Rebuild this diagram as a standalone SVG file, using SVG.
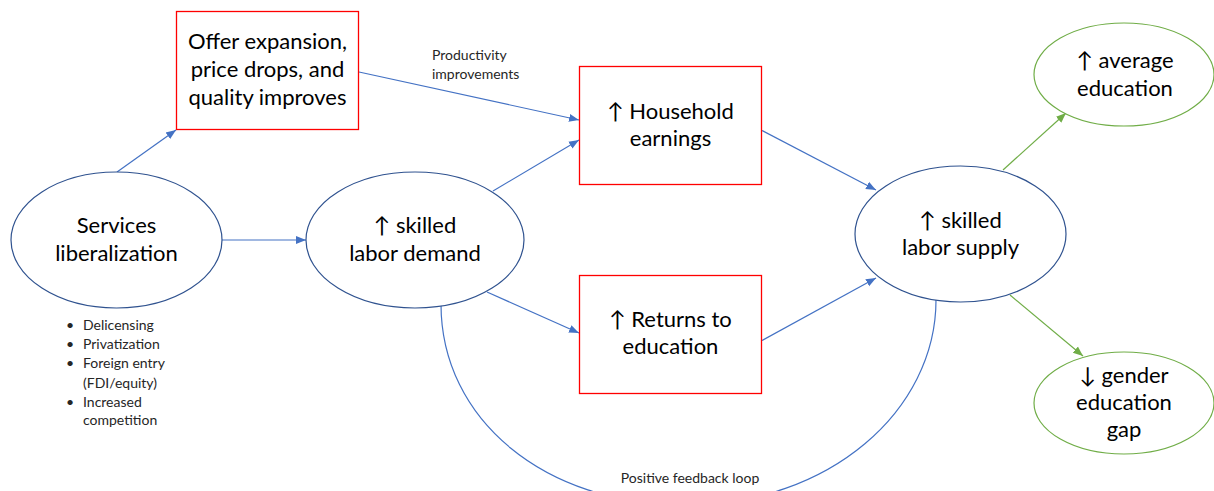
<svg xmlns="http://www.w3.org/2000/svg" width="1214" height="491" viewBox="0 0 1214 491">
<style>
  .ell { fill: #ffffff; stroke: #2F528F; stroke-width: 1.2; }
  .gell { fill: #ffffff; stroke: #70AD47; stroke-width: 1.2; }
  .box { fill: #ffffff; stroke: #FF0000; stroke-width: 1.3; }
  .big { font-family: Lato, "Liberation Sans", sans-serif; font-size: 22px; fill: #000000; text-anchor: middle; }
  .small { font-family: Lato, "Liberation Sans", sans-serif; font-size: 14px; fill: #262626; }
  .conn { fill: none; stroke: #4472C4; stroke-width: 1.2; }
  .gconn { fill: none; stroke: #70AD47; stroke-width: 1.2; }
</style>
<defs>
  <marker id="ab" markerUnits="userSpaceOnUse" markerWidth="10" markerHeight="10" viewBox="0 0 10 10" refX="10" refY="5" orient="auto">
    <path d="M0,1 L10,5 L0,9 Z" fill="#4472C4"/>
  </marker>
  <marker id="ag" markerUnits="userSpaceOnUse" markerWidth="10" markerHeight="10" viewBox="0 0 10 10" refX="10" refY="5" orient="auto">
    <path d="M0,1 L10,5 L0,9 Z" fill="#70AD47"/>
  </marker>
</defs>
<rect width="1214" height="491" fill="#ffffff"/>

<g id="connectors">
  <path class="conn" d="M117,172 L176,130" marker-end="url(#ab)"/>
  <path class="conn" d="M222,240 L306,240" marker-end="url(#ab)"/>
  <path class="conn" d="M359,72 L579,120" marker-end="url(#ab)"/>
  <path class="conn" d="M493,191 L579,140" marker-end="url(#ab)"/>
  <path class="conn" d="M487,292 L579,333" marker-end="url(#ab)"/>
  <path class="conn" d="M761,130 L876,190" marker-end="url(#ab)"/>
  <path class="conn" d="M761,341 L876,278" marker-end="url(#ab)"/>
  <path class="gconn" d="M1003,170 L1066,113" marker-end="url(#ag)"/>
  <path class="gconn" d="M1010,295 L1083,356" marker-end="url(#ag)"/>
  <path class="conn" d="M441,304 C441,420 545,505 685,505 C830,505 936,410 936,300"/>
  <text class="small" x="690" y="483" text-anchor="middle">Positive feedback loop</text>
  <text class="small" x="432" y="60">Productivity</text>
  <text class="small" x="432" y="79">improvements</text>
</g>

<g id="services">
  <ellipse class="ell" cx="116.5" cy="240" rx="105.5" ry="68"/>
  <text class="big" x="116.5" y="233">Services</text>
  <text class="big" x="116.5" y="261">liberalization</text>
  <g class="small">
    <text x="66" y="330">•</text><text x="83" y="330">Delicensing</text>
    <text x="66" y="349">•</text><text x="83" y="349">Privatization</text>
    <text x="66" y="368">•</text><text x="83" y="368">Foreign entry</text>
    <text x="83" y="388">(FDI/equity)</text>
    <text x="66" y="407">•</text><text x="83" y="407">Increased</text>
    <text x="83" y="425">competition</text>
  </g>
</g>

<g id="offer">
  <rect class="box" x="176.5" y="11.5" width="182" height="118"/>
  <text class="big" x="267.5" y="49">Offer expansion,</text>
  <text class="big" x="267.5" y="77">price drops, and</text>
  <text class="big" x="267.5" y="105">quality improves</text>
</g>

<g id="demand">
  <ellipse class="ell" cx="415" cy="240" rx="109" ry="68"/>
  <text class="big" x="415" y="233">↑ skilled</text>
  <text class="big" x="415" y="261">labor demand</text>
</g>

<g id="household">
  <rect class="box" x="579.5" y="66.5" width="182" height="118"/>
  <text class="big" x="670.5" y="119">↑ Household</text>
  <text class="big" x="670.5" y="146">earnings</text>
</g>

<g id="returns">
  <rect class="box" x="579.5" y="275.5" width="182" height="118"/>
  <text class="big" x="670.5" y="327">↑ Returns to</text>
  <text class="big" x="670.5" y="354">education</text>
</g>

<g id="supply">
  <ellipse class="ell" cx="960.5" cy="234" rx="105.5" ry="68"/>
  <text class="big" x="960.5" y="228">↑ skilled</text>
  <text class="big" x="960.5" y="255">labor supply</text>
</g>

<g id="average">
  <ellipse class="gell" cx="1124" cy="74.5" rx="90" ry="51.5"/>
  <text class="big" x="1125" y="68">↑ average</text>
  <text class="big" x="1125" y="96">education</text>
</g>

<g id="gender">
  <ellipse class="gell" cx="1124" cy="403" rx="90" ry="51"/>
  <text class="big" x="1124" y="383">↓ gender</text>
  <text class="big" x="1124" y="410">education</text>
  <text class="big" x="1124" y="437">gap</text>
</g>
</svg>
